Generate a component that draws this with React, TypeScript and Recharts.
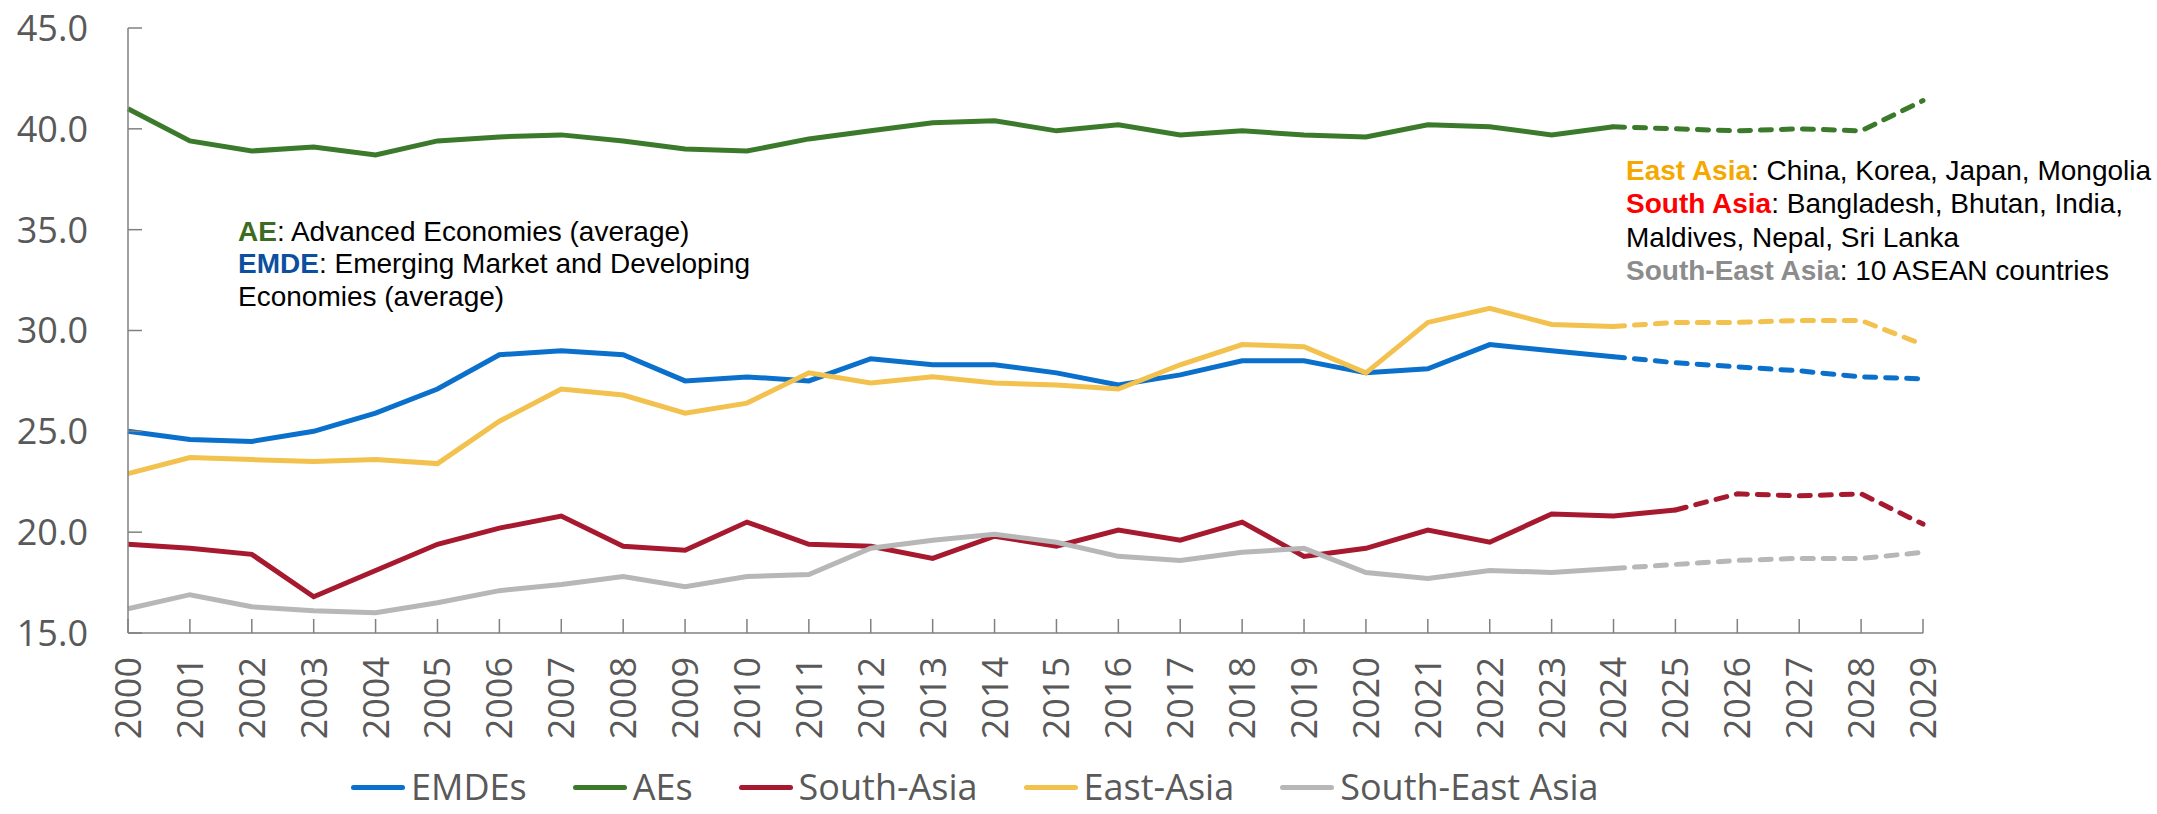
import { CartesianGrid, Legend, Line, LineChart, XAxis, YAxis } from 'recharts'

const years = [
  2000, 2001, 2002, 2003, 2004, 2005, 2006, 2007, 2008, 2009,
  2010, 2011, 2012, 2013, 2014, 2015, 2016, 2017, 2018, 2019,
  2020, 2021, 2022, 2023, 2024, 2025, 2026, 2027, 2028, 2029,
]
const yTicks = [15, 20, 25, 30, 35, 40, 45]

// actual values start in 2000, forecasts start at the first year of their own list
const emdeActual = [25.0, 24.6, 24.5, 25.0, 25.9, 27.1, 28.8, 29.0, 28.8, 27.5, 27.7, 27.5, 28.6, 28.3, 28.3, 27.9, 27.3, 27.8, 28.5, 28.5, 27.9, 28.1, 29.3, 29.0, 28.7]
const emdeForecast = [28.7, 28.4, 28.2, 28.0, 27.7, 27.6]
const aeActual = [41.0, 39.4, 38.9, 39.1, 38.7, 39.4, 39.6, 39.7, 39.4, 39.0, 38.9, 39.5, 39.9, 40.3, 40.4, 39.9, 40.2, 39.7, 39.9, 39.7, 39.6, 40.2, 40.1, 39.7, 40.1]
const aeForecast = [40.1, 40.0, 39.9, 40.0, 39.9, 41.4]
const southAsiaActual = [19.4, 19.2, 18.9, 16.8, 18.1, 19.4, 20.2, 20.8, 19.3, 19.1, 20.5, 19.4, 19.3, 18.7, 19.8, 19.3, 20.1, 19.6, 20.5, 18.8, 19.2, 20.1, 19.5, 20.9, 20.8, 21.1]
const southAsiaForecast = [21.1, 21.9, 21.8, 21.9, 20.4]
const eastAsiaActual = [22.9, 23.7, 23.6, 23.5, 23.6, 23.4, 25.5, 27.1, 26.8, 25.9, 26.4, 27.9, 27.4, 27.7, 27.4, 27.3, 27.1, 28.3, 29.3, 29.2, 27.9, 30.4, 31.1, 30.3, 30.2]
const eastAsiaForecast = [30.2, 30.4, 30.4, 30.5, 30.5, 29.3]
const seaActual = [16.2, 16.9, 16.3, 16.1, 16.0, 16.5, 17.1, 17.4, 17.8, 17.3, 17.8, 17.9, 19.2, 19.6, 19.9, 19.5, 18.8, 18.6, 19.0, 19.2, 18.0, 17.7, 18.1, 18.0, 18.2]
const seaForecast = [18.2, 18.4, 18.6, 18.7, 18.7, 19.0]

const forecastStart = 2024
const southAsiaForecastStart = 2025

const blue = '#0A70CC'
const green = '#3B7A2A'
const red = '#A6192E'
const yellow = '#F2C14E'
const grey = '#B7B7B7'
const axisGrey = '#808080'
const labelGrey = '#595959'

const pick = (arr: number[], i: number) => (i >= 0 && i < arr.length ? arr[i] : null)

const chartData = years.map((year, i) => ({
  year,
  emde: pick(emdeActual, i),
  emdeF: pick(emdeForecast, year - forecastStart),
  ae: pick(aeActual, i),
  aeF: pick(aeForecast, year - forecastStart),
  sa: pick(southAsiaActual, i),
  saF: pick(southAsiaForecast, year - southAsiaForecastStart),
  ea: pick(eastAsiaActual, i),
  eaF: pick(eastAsiaForecast, year - forecastStart),
  sea: pick(seaActual, i),
  seaF: pick(seaForecast, year - forecastStart),
}))

const legendItems = [
  { name: 'EMDEs', color: blue },
  { name: 'AEs', color: green },
  { name: 'South-Asia', color: red },
  { name: 'East-Asia', color: yellow },
  { name: 'South-East Asia', color: grey },
]

const tickFont = '"Open Sans", sans-serif'
const noteFont = '"Liberation Sans", Arial, sans-serif'
const dash = '11 10'

const YearTick = (props: any) => {
  const { x, y, payload } = props
  return (
    <g>
      <line x1={x} x2={x} y1={y - 24} y2={y - 38} stroke={axisGrey} strokeWidth={1.5} />
      <text transform={`translate(${x},${y}) rotate(-90)`} textAnchor="end" dy="0.36em"
        fontSize={36} fontFamily={tickFont} fill={labelGrey}>
        {payload.value}
      </text>
    </g>
  )
}

const ValueTick = (props: any) => {
  const { x, y, payload } = props
  return (
    <g>
      <line x1={x + 40} x2={x + 54} y1={y} y2={y} stroke={axisGrey} strokeWidth={1.5} />
      <text x={x} y={y} textAnchor="end" dy="0.36em" fontSize={36} fontFamily={tickFont} fill={labelGrey}>
        {Number(payload.value).toFixed(1)}
      </text>
    </g>
  )
}

const LegendRow = () => (
  <div style={{ display: 'flex', alignItems: 'center', fontFamily: tickFont, fontSize: 36, color: labelGrey, lineHeight: '34px', height: 34, whiteSpace: 'nowrap' }}>
    {legendItems.map((item) => (
      <div key={item.name} style={{ display: 'flex', alignItems: 'center', marginRight: 46 }}>
        <div style={{ width: 54, height: 5, background: item.color, borderRadius: 3, marginRight: 6 }} />
        <span>{item.name}</span>
      </div>
    ))}
  </div>
)

function App() {
  return (
    <div style={{ position: 'absolute', left: 0, top: 0, width: 2157, height: 814, background: '#fff' }}>
      <LineChart width={2157} height={814} data={chartData} margin={{ top: 28, right: 234, bottom: 0, left: 0 }}>
        <CartesianGrid stroke="none" />
        <XAxis dataKey="year" type="number" domain={[2000, 2029]} ticks={years} interval={0}
          tickSize={0} tickMargin={24} tick={<YearTick />} height={181}
          axisLine={{ stroke: axisGrey, strokeWidth: 1.5 }} />
        <YAxis type="number" domain={[15, 45]} ticks={yTicks} interval={0} width={128}
          tickSize={0} tickMargin={40} tick={<ValueTick />}
          axisLine={{ stroke: axisGrey, strokeWidth: 1.5 }} />
        <Legend verticalAlign="middle" align="center"
          wrapperStyle={{ top: 770, left: 351, width: 1750, height: 34 }}
          content={() => <LegendRow />} />

        <Line dataKey="emde" stroke={blue} strokeWidth={5} dot={false} isAnimationActive={false} />
        <Line dataKey="emdeF" stroke={blue} strokeWidth={5} strokeDasharray={dash} strokeLinecap="round" dot={false} isAnimationActive={false} />
        <Line dataKey="ae" stroke={green} strokeWidth={5} dot={false} isAnimationActive={false} />
        <Line dataKey="aeF" stroke={green} strokeWidth={5} strokeDasharray={dash} strokeLinecap="round" dot={false} isAnimationActive={false} />
        <Line dataKey="sa" stroke={red} strokeWidth={5} dot={false} isAnimationActive={false} />
        <Line dataKey="saF" stroke={red} strokeWidth={5} strokeDasharray={dash} strokeLinecap="round" dot={false} isAnimationActive={false} />
        <Line dataKey="ea" stroke={yellow} strokeWidth={5} dot={false} isAnimationActive={false} />
        <Line dataKey="eaF" stroke={yellow} strokeWidth={5} strokeDasharray={dash} strokeLinecap="round" dot={false} isAnimationActive={false} />
        <Line dataKey="sea" stroke={grey} strokeWidth={5} dot={false} isAnimationActive={false} />
        <Line dataKey="seaF" stroke={grey} strokeWidth={5} strokeDasharray={dash} strokeLinecap="round" dot={false} isAnimationActive={false} />

        <g fontFamily={noteFont} fontSize={28} fill="#000">
          <text x={238} y={241}>
            <tspan fill="#3D6B1F" fontWeight="bold">AE</tspan>
            <tspan>: Advanced Economies (average)</tspan>
          </text>
          <text x={238} y={273}>
            <tspan fill="#0B4F9E" fontWeight="bold">EMDE</tspan>
            <tspan>: Emerging Market and Developing</tspan>
          </text>
          <text x={238} y={306}>Economies (average)</text>

          <text x={1626} y={180}>
            <tspan fill="#F5A800" fontWeight="bold">East Asia</tspan>
            <tspan>: China, Korea, Japan, Mongolia</tspan>
          </text>
          <text x={1626} y={213}>
            <tspan fill="#FF0000" fontWeight="bold">South Asia</tspan>
            <tspan>: Bangladesh, Bhutan, India,</tspan>
          </text>
          <text x={1626} y={247}>Maldives, Nepal, Sri Lanka</text>
          <text x={1626} y={280}>
            <tspan fill="#8C8C8C" fontWeight="bold">South-East Asia</tspan>
            <tspan>: 10 ASEAN  countries</tspan>
          </text>
        </g>
      </LineChart>
    </div>
  )
}

export default App
